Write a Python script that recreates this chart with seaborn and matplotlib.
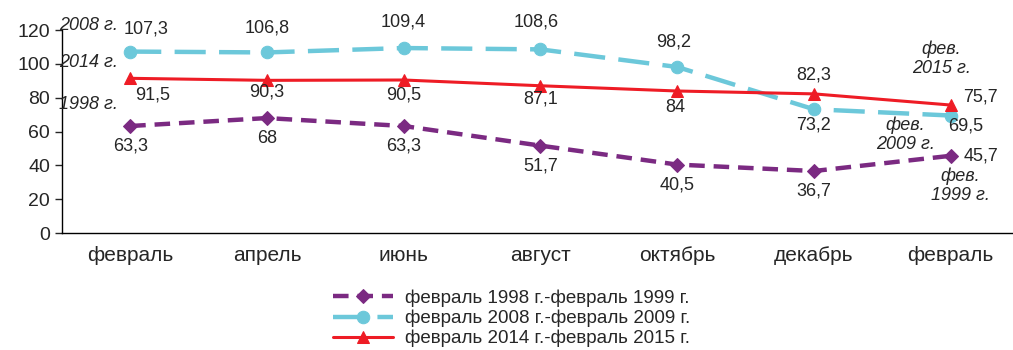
import matplotlib
matplotlib.use("Agg")
import matplotlib.pyplot as plt
import seaborn as sns
import numpy as np

# data
months = ["февраль", "апрель", "июнь", "август", "октябрь", "декабрь", "февраль"]
s1998 = [63.3, 68, 63.3, 51.7, 40.5, 36.7, 45.7]
s2008 = [107.3, 106.8, 109.4, 108.6, 98.2, 73.2, 69.5]
s2014 = [91.5, 90.3, 90.5, 87.1, 84, 82.3, 75.7]
labels_1998 = ["63,3", "68", "63,3", "51,7", "40,5", "36,7", "45,7"]
labels_2008 = ["107,3", "106,8", "109,4", "108,6", "98,2", "73,2", "69,5"]
labels_2014 = ["91,5", "90,3", "90,5", "87,1", "84", "82,3", "75,7"]

sns.set_style("white")
plt.rcParams["font.family"] = ["Liberation Sans", "DejaVu Sans"]

fig = plt.figure(figsize=(10.13, 3.5), dpi=100)
ax = fig.add_axes([0.061, 0.334, 0.945, 0.58])
x = np.arange(len(months))

purple = "#7B2A82"
cyan = "#6CC8DA"
red = "#EE1C25"

sns.lineplot(x=x, y=s1998, ax=ax, color=purple, lw=3.2, marker="D", markersize=7,
             markeredgecolor=purple, dashes=(3.5, 2), label="февраль 1998 г.-февраль 1999 г.")
sns.lineplot(x=x, y=s2008, ax=ax, color=cyan, lw=3.2, marker="o", markersize=9,
             markeredgecolor=cyan, dashes=(7, 3), label="февраль 2008 г.-февраль 2009 г.")
sns.lineplot(x=x, y=s2014, ax=ax, color=red, lw=2.2, marker="^", markersize=9,
             markeredgecolor=red, label="февраль 2014 г.-февраль 2015 г.")

# value labels (pixel offsets)
off1998 = [(0, -20)] * 6 + [(30, 0)]
off2008 = [(16, 23), (0, 24), (0, 26), (-4, 27), (-4, 25), (0, -16), (15, -10)]
off2014 = [(22, -17), (0, -12), (0, -15), (0, -13), (-2, -17), (0, 19), (30, 8)]
for vals, labs, offs in [(s1998, labels_1998, off1998), (s2008, labels_2008, off2008),
                         (s2014, labels_2014, off2014)]:
    for xi, v, lab, o in zip(x, vals, labs, offs):
        ax.annotate(lab, (xi, v), xytext=o, textcoords="offset pixels",
                    ha="center", va="center", fontsize=13)

# italic year notes
for yn, t in [(123, "2008 г."), (101, "2014 г."), (76, "1998 г.")]:
    ax.text(-0.52, yn, t, style="italic", fontsize=13, ha="left", va="center")
for xn, yn, t in [(5.93, 103, "фев.\n2015 г."), (5.67, 58, "фев.\n2009 г."),
                  (6.07, 28, "фев.\n1999 г.")]:
    ax.text(xn, yn, t, style="italic", fontsize=13, ha="center", va="center",
            linespacing=1.15)

ax.set_xlim(-0.5, 6.5)
ax.set_ylim(0, 120)
ax.set_yticks(range(0, 121, 20))
ax.set_xticks(x)
ax.set_xticklabels(months)
ax.set_xticks(np.arange(-0.5, 6.6, 1), minor=True)
ax.tick_params(axis="x", which="major", length=0, labelsize=15, pad=9)
ax.tick_params(axis="x", which="minor", length=5, direction="out", width=1)
ax.tick_params(axis="y", length=5, direction="out", width=1, labelsize=14, left=True)
for side in ["top", "right"]:
    ax.spines[side].set_visible(False)
for side in ["left", "bottom"]:
    ax.spines[side].set_color("black")
    ax.spines[side].set_linewidth(1)
ax.set_xlabel("")

ax.legend(loc="upper center", bbox_to_anchor=(0.47, -0.24), frameon=False, fontsize=13.5,
          handlelength=3.2, labelspacing=0.15, handletextpad=0.6, borderaxespad=0)

fig.savefig("out.png", dpi=100)
